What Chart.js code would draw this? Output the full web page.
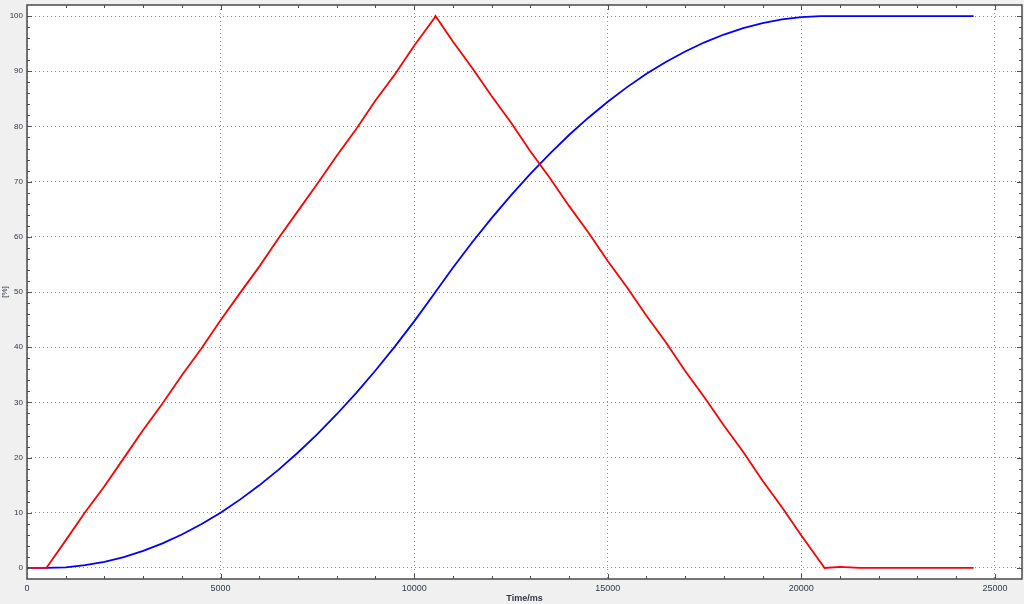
<!DOCTYPE html>
<html>
<head>
<meta charset="utf-8">
<script src="https://cdn.jsdelivr.net/npm/chart.js@4/dist/chart.umd.min.js"></script>
<style>
  html, body { margin: 0; padding: 0; background: #f0f0f0; }
  #wrap { width: 1024px; height: 604px; }
</style>
</head>
<body>
<div id="wrap"><canvas id="plot" width="1024" height="604"></canvas></div>
<script>
// time axis (ms)
var times = [0, 500, 1000, 1500, 2000, 2500, 3000, 3500, 4000, 4500, 5000, 5500, 6000, 6500, 7000,
  7500, 8000, 8500, 9000, 9500, 10000, 10500, 10550, 11000, 11500, 12000, 12500, 13000, 13500,
  14000, 14500, 15000, 15500, 16000, 16500, 17000, 17500, 18000, 18500, 19000, 19500, 20000,
  20500, 20600, 21000, 21500, 22000, 22500, 23000, 23500, 24000, 24450];

// red trace [%]
var redValues = [0, 0, 5.0, 10.1, 14.8, 19.9, 25.0, 29.8, 34.9, 39.7, 44.9, 49.8, 54.6, 59.8, 64.7,
  69.6, 74.7, 79.5, 84.7, 89.4, 94.6, 99.4, 100, 95.4, 90.6, 85.5, 80.7, 75.5, 70.7,
  65.6, 60.8, 55.6, 50.8, 45.7, 40.9, 35.7, 30.9, 25.8, 21.0, 15.8, 11.0, 5.9,
  1.0, 0, 0.2, 0, 0, 0, 0, 0, 0, 0];

// blue trace [%]
var blueValues = [0, 0, 0.12, 0.5, 1.11, 1.98, 3.09, 4.46, 6.06, 7.92, 10.02, 12.38, 14.97, 17.82, 20.92,
  24.26, 27.85, 31.68, 35.77, 40.10, 44.68, 49.50, 50, 54.38, 59.01, 63.39, 67.52, 71.41, 75.04,
  78.44, 81.58, 84.48, 87.12, 89.53, 91.68, 93.58, 95.24, 96.65, 97.82, 98.73, 99.40, 99.82,
  100, 100, 100, 100, 100, 100, 100, 100, 100, 100];

var xTicks = [0, 5000, 10000, 15000, 20000, 25000];
var yTicks = [0, 10, 20, 30, 40, 50, 60, 70, 80, 90, 100];

function points(vals) {
  return times.map(function (t, i) { return { x: t, y: vals[i] }; });
}

// white plot area + inward tick marks on all four sides
var frame = {
  id: 'frame',
  beforeDraw: function (chart) {
    var a = chart.chartArea, ctx = chart.ctx;
    ctx.save();
    ctx.fillStyle = '#ffffff';
    ctx.fillRect(a.left, a.top, a.right - a.left, a.bottom - a.top);
    ctx.restore();
  },
  afterDraw: function (chart) {
    var a = chart.chartArea, ctx = chart.ctx;
    var xs = chart.scales.x, ys = chart.scales.y;
    ctx.save();
    ctx.strokeStyle = '#505050';
    ctx.lineWidth = 1;
    ctx.beginPath();
    for (var v = 1000; v < xs.max; v += 1000) {
      var px = Math.round(xs.getPixelForValue(v)) + 0.5;
      var len = v % 5000 === 0 ? 5 : 3;
      ctx.moveTo(px, a.bottom); ctx.lineTo(px, a.bottom - len);
      ctx.moveTo(px, a.top); ctx.lineTo(px, a.top + len);
    }
    for (var w = 0; w <= 100; w += 2) {
      var py = Math.round(ys.getPixelForValue(w)) + 0.5;
      var l2 = w % 10 === 0 ? 5 : 3;
      ctx.moveTo(a.left, py); ctx.lineTo(a.left + l2, py);
      ctx.moveTo(a.right, py); ctx.lineTo(a.right - l2, py);
    }
    ctx.stroke();
    ctx.lineWidth = 1.5;
    ctx.strokeStyle = '#4a4a4a';
    ctx.strokeRect(a.left, a.top, a.right - a.left, a.bottom - a.top);
    ctx.restore();
  }
};

var plain = function (v) { return String(v); };

var ctx = document.getElementById('plot').getContext('2d');
new Chart(ctx, {
  type: 'line',
  data: {
    datasets: [{
      label: 'red',
      data: points(redValues),
      borderColor: '#ff0000',
      borderWidth: 1.8,
      pointRadius: 0,
      tension: 0
    }, {
      label: 'blue',
      data: points(blueValues),
      borderColor: '#0000ff',
      borderWidth: 1.8,
      pointRadius: 0,
      tension: 0
    }]
  },
  options: {
    responsive: false,
    animation: false,
    layout: { padding: { top: 5, right: 2, left: 0, bottom: 0 } },
    plugins: { legend: { display: false }, tooltip: { enabled: false } },
    scales: {
      x: {
        type: 'linear',
        min: 0,
        max: 25700,
        afterBuildTicks: function (s) { s.ticks = xTicks.map(function (v) { return { value: v }; }); },
        afterFit: function (s) { s.height = 25; s.paddingLeft = 0; s.paddingRight = 0; },
        border: { display: false, dash: [1, 3] },
        grid: { color: '#909090', lineWidth: 1, drawTicks: false },
        ticks: { color: '#303848', font: { family: 'Liberation Sans', size: 9 }, padding: 4, maxRotation: 0, callback: plain },
        title: { display: true, text: 'Time/ms', color: '#303848', padding: 0,
          font: { family: 'Liberation Sans', size: 9, weight: 'bold' } }
      },
      y: {
        min: -2,
        max: 102,
        afterBuildTicks: function (s) { s.ticks = yTicks.map(function (v) { return { value: v }; }); },
        afterFit: function (s) { s.width = 27; s.paddingTop = 0; s.paddingBottom = 0; },
        border: { display: false, dash: [1, 3] },
        grid: { color: '#909090', lineWidth: 1, drawTicks: false },
        ticks: { color: '#303848', font: { family: 'Liberation Sans', size: 8 }, padding: 4, callback: plain },
        title: { display: true, text: '[%]', color: '#303848', padding: 0,
          font: { family: 'Liberation Sans', size: 8 } }
      }
    }
  },
  plugins: [frame]
});
</script>
</body>
</html>
